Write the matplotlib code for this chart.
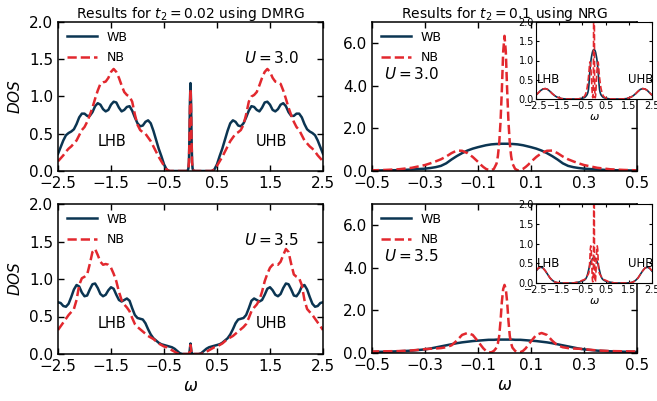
import numpy as np
import matplotlib
matplotlib.use("Agg")
import matplotlib.pyplot as plt
from matplotlib.ticker import FormatStrFormatter

# Les spectres sont symetriques en omega : on lit la moitie w >= 0
# DMRG, t2 = 0.02, U = 3.0
w_d30 = [0.0, 0.01, 0.02, 0.03, 0.04, 0.06, 0.1, 0.2, 0.3, 0.4,
         0.45, 0.5, 0.55, 0.6, 0.65, 0.7, 0.75, 0.8, 0.85, 0.9, 0.95,
         1.0, 1.05, 1.1, 1.15, 1.2, 1.25, 1.3, 1.35, 1.4, 1.45,
         1.5, 1.55, 1.6, 1.65, 1.7, 1.75, 1.8, 1.85, 1.9, 1.95,
         2.0, 2.05, 2.1, 2.15, 2.2, 2.25, 2.3, 2.35, 2.4, 2.45, 2.5]
wb_d30 = [1.18, 0.95, 0.45, 0.12, 0.03, 0.0, 0.0, 0.0, 0.0, 0.0,
          0.02, 0.09, 0.20, 0.30, 0.42, 0.54, 0.64, 0.68, 0.66, 0.61, 0.60,
          0.64, 0.72, 0.81, 0.87, 0.86, 0.82, 0.80, 0.85, 0.92, 0.93,
          0.89, 0.82, 0.80, 0.83, 0.89, 0.91, 0.87, 0.79, 0.74, 0.74,
          0.77, 0.77, 0.72, 0.63, 0.56, 0.53, 0.51, 0.48, 0.41, 0.32, 0.23]
nb_d30 = [1.10, 0.85, 0.40, 0.12, 0.03, 0.0, 0.0, 0.0, 0.0, 0.0,
          0.02, 0.07, 0.13, 0.19, 0.26, 0.33, 0.40, 0.45, 0.50, 0.52, 0.55,
          0.62, 0.76, 0.93, 1.00, 1.02, 1.06, 1.15, 1.25, 1.33, 1.37,
          1.33, 1.25, 1.20, 1.19, 1.17, 1.08, 0.97, 0.85, 0.75, 0.66,
          0.59, 0.55, 0.48, 0.41, 0.37, 0.33, 0.30, 0.26, 0.21, 0.17, 0.13]

# DMRG, t2 = 0.02, U = 3.5
w_d35 = [0.0, 0.01, 0.02, 0.03, 0.05,
         0.1, 0.15, 0.2, 0.25, 0.3, 0.35, 0.4, 0.45, 0.5, 0.55, 0.6, 0.65,
         0.7, 0.75, 0.8, 0.85, 0.9, 0.95, 1.0, 1.05, 1.1, 1.15, 1.2, 1.25,
         1.3, 1.35, 1.4, 1.45, 1.5, 1.55, 1.6, 1.65, 1.7, 1.75, 1.8, 1.85,
         1.9, 1.95, 2.0, 2.05, 2.1, 2.15, 2.2, 2.25, 2.3, 2.35, 2.4, 2.45, 2.5]
wb_d35 = [0.14, 0.08, 0.02, 0.0, 0.0,
          0.0, 0.0, 0.01, 0.04, 0.07, 0.09, 0.10, 0.11, 0.12, 0.13, 0.15, 0.18,
          0.21, 0.26, 0.33, 0.41, 0.46, 0.47, 0.48, 0.52, 0.61, 0.71, 0.74, 0.72,
          0.70, 0.72, 0.79, 0.87, 0.89, 0.85, 0.79, 0.77, 0.80, 0.88, 0.94, 0.93,
          0.86, 0.78, 0.77, 0.82, 0.90, 0.92, 0.86, 0.76, 0.67, 0.63, 0.64, 0.68, 0.69]
nb_d35 = [0.12, 0.06, 0.01, 0.0, 0.0,
          0.0, 0.0, 0.0, 0.01, 0.03, 0.05, 0.07, 0.09, 0.10, 0.12, 0.14, 0.17,
          0.20, 0.22, 0.24, 0.27, 0.30, 0.33, 0.36, 0.40, 0.48, 0.57, 0.62, 0.66,
          0.72, 0.83, 0.97, 1.07, 1.15, 1.19, 1.20, 1.19, 1.23, 1.32, 1.40, 1.36,
          1.20, 1.06, 1.03, 1.01, 0.92, 0.72, 0.60, 0.56, 0.52, 0.47, 0.42, 0.37, 0.32]

# NRG, t2 = 0.1 (meme grille pour U = 3.0 et U = 3.5)
w_nrg = [0.0, 0.005, 0.01, 0.015, 0.02, 0.025, 0.03, 0.04, 0.05, 0.06,
         0.07, 0.08, 0.09, 0.1, 0.12, 0.14, 0.16, 0.18, 0.2, 0.22,
         0.24, 0.26, 0.28, 0.3, 0.35, 0.4, 0.45, 0.5, 0.6, 0.7,
         0.8, 0.9, 1.0, 1.2, 1.4, 1.6, 1.7, 1.8, 1.9, 2.0,
         2.1, 2.2, 2.3, 2.4, 2.5]
wb_n30 = [1.28, 1.28, 1.28, 1.28, 1.27, 1.27, 1.27, 1.26, 1.25, 1.23,
          1.21, 1.18, 1.15, 1.12, 1.05, 0.96, 0.84, 0.70, 0.54, 0.36,
          0.24, 0.18, 0.14, 0.11, 0.07, 0.04, 0.03, 0.02, 0.01, 0.0,
          0.0, 0.0, 0.0, 0.0, 0.01, 0.05, 0.09, 0.14, 0.20, 0.25,
          0.27, 0.26, 0.22, 0.16, 0.10]
nb_n30 = [6.35, 5.60, 3.80, 2.30, 1.30, 0.70, 0.35, 0.10, 0.03, 0.05,
          0.10, 0.19, 0.30, 0.43, 0.66, 0.84, 0.95, 0.96, 0.84, 0.68,
          0.55, 0.45, 0.36, 0.28, 0.15, 0.08, 0.05, 0.03, 0.01, 0.0,
          0.0, 0.0, 0.0, 0.0, 0.01, 0.05, 0.09, 0.14, 0.20, 0.25,
          0.27, 0.26, 0.22, 0.16, 0.10]
wb_n35 = [0.63, 0.63, 0.63, 0.63, 0.63, 0.63, 0.63, 0.62, 0.62, 0.62,
          0.61, 0.60, 0.59, 0.58, 0.56, 0.53, 0.50, 0.46, 0.41, 0.36,
          0.31, 0.26, 0.21, 0.17, 0.11, 0.08, 0.06, 0.05, 0.03, 0.02,
          0.01, 0.0, 0.0, 0.0, 0.0, 0.01, 0.03, 0.07, 0.13, 0.22,
          0.31, 0.38, 0.40, 0.37, 0.30]
nb_n35 = [3.20, 3.00, 2.40, 1.50, 0.80, 0.45, 0.25, 0.10, 0.03, 0.04,
          0.10, 0.22, 0.38, 0.55, 0.85, 0.94, 0.85, 0.58, 0.36, 0.27,
          0.23, 0.21, 0.20, 0.18, 0.12, 0.09, 0.08, 0.07, 0.04, 0.02,
          0.01, 0.0, 0.0, 0.0, 0.0, 0.01, 0.03, 0.07, 0.13, 0.22,
          0.31, 0.38, 0.41, 0.38, 0.31]

c_wb = '#0b3552'
c_nb = '#e2282e'


def full(w, v):
    # reconstruction de la partie w < 0 par symetrie
    w = np.array(w)
    v = np.array(v)
    return np.concatenate([-w[:0:-1], w]), np.concatenate([v[:0:-1], v])


def style(ax, size=11):
    ax.tick_params(direction='in', top=True, right=True, labelsize=size,
                   length=4, width=1.0)
    for s in ax.spines.values():
        s.set_linewidth(1.1)


fig = plt.figure(figsize=(6.57, 4.01), dpi=100)

W, H = 657, 401
def box(l, t, r, b):
    return [l / W, 1 - b / H, (r - l) / W, (b - t) / H]

ax_tl = fig.add_axes(box(58, 22, 323, 171))
ax_tr = fig.add_axes(box(372, 22, 637, 171))
ax_bl = fig.add_axes(box(58, 204, 323, 354))
ax_br = fig.add_axes(box(372, 204, 637, 353))
in_t = fig.add_axes(box(536, 22, 652, 99))
in_b = fig.add_axes(box(536, 204, 652, 283))

# panneaux DMRG
for ax, w, wb, nb, u in [(ax_tl, w_d30, wb_d30, nb_d30, '3.0'),
                         (ax_bl, w_d35, wb_d35, nb_d35, '3.5')]:
    x, y1 = full(w, wb)
    _, y2 = full(w, nb)
    ax.plot(x, y1, color=c_wb, lw=1.8, label='WB')
    ax.plot(x, y2, color=c_nb, lw=1.8, ls='--', label='NB')
    ax.set_xlim(-2.5, 2.5)
    ax.set_ylim(0, 2.0)
    ax.set_xticks([-2.5, -1.5, -0.5, 0.5, 1.5, 2.5])
    ax.set_yticks([0, 0.5, 1.0, 1.5, 2.0])
    ax.yaxis.set_major_formatter(FormatStrFormatter('%.1f'))
    ax.set_ylabel('$DOS$', fontsize=11, labelpad=4)
    ax.text(1.0, 1.52, '$U = %s$' % u, fontsize=11, va='center')
    ax.text(-1.48, 0.4, 'LHB', fontsize=10.5, ha='center', va='center')
    ax.text(1.52, 0.4, 'UHB', fontsize=10.5, ha='center', va='center')
    ax.legend(loc='upper left', frameon=False, fontsize=9, handlelength=2.4,
              borderaxespad=0.3, labelspacing=0.6)
    style(ax)

# panneaux NRG
for ax, ins, wb, nb, u in [(ax_tr, in_t, wb_n30, nb_n30, '3.0'),
                           (ax_br, in_b, wb_n35, nb_n35, '3.5')]:
    x, y1 = full(w_nrg, wb)
    _, y2 = full(w_nrg, nb)
    ax.plot(x, y1, color=c_wb, lw=1.8, label='WB')
    ax.plot(x, y2, color=c_nb, lw=1.8, ls='--', label='NB')
    ax.set_xlim(-0.5, 0.5)
    ax.set_ylim(0, 7.0)
    ax.set_xticks([-0.5, -0.3, -0.1, 0.1, 0.3, 0.5])
    ax.set_yticks([0, 2, 4, 6])
    ax.yaxis.set_major_formatter(FormatStrFormatter('%.1f'))
    ax.text(-0.455, 4.55, '$U = %s$' % u, fontsize=11, va='center')
    ax.legend(loc='upper left', frameon=False, fontsize=9, handlelength=2.4,
              borderaxespad=0.3, labelspacing=0.6)
    style(ax)

    ins.plot(x, y1, color=c_wb, lw=1.2)
    ins.plot(x, y2, color=c_nb, lw=1.2, ls='--')
    ins.set_xlim(-2.5, 2.5)
    ins.set_ylim(0, 2.0)
    ins.set_xticks([-2.5, -1.5, -0.5, 0.5, 1.5, 2.5])
    ins.set_yticks([0, 0.5, 1.0, 1.5, 2.0])
    ins.yaxis.set_major_formatter(FormatStrFormatter('%.1f'))
    ins.text(-2.48, 0.5, 'LHB', fontsize=8.5, va='center')
    ins.text(2.55, 0.5, 'UHB', fontsize=8.5, va='center', ha='right')
    ins.set_xlabel(r'$\omega$', fontsize=8, labelpad=1)
    ins.tick_params(direction='in', top=True, right=True, labelsize=7,
                    length=2.5, width=0.8, pad=1.5)

ax_bl.set_xlabel(r'$\omega$', fontsize=12, labelpad=2)
ax_br.set_xlabel(r'$\omega$', fontsize=12, labelpad=2)
ax_tl.set_title('Results for $t_2 = 0.02$ using DMRG', fontsize=10, pad=3)
ax_tr.set_title('Results for $t_2 = 0.1$ using NRG', fontsize=10, pad=3)

fig.savefig('out.png', dpi=100)
